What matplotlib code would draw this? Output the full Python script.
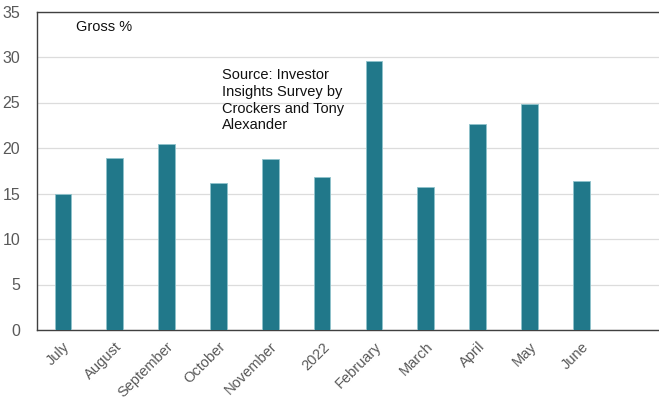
import matplotlib
matplotlib.use("Agg")
import matplotlib.pyplot as plt

categories = ["July", "August", "September", "October", "November", "2022",
              "February", "March", "April", "May", "June", ""]
values = [14.9, 18.9, 20.4, 16.15, 18.8, 16.8, 29.6, 15.7, 22.6, 24.8, 16.4, None]
yticks = [0, 5, 10, 15, 20, 25, 30, 35]

plt.rcParams['font.family'] = ['Liberation Sans', 'DejaVu Sans']

fig = plt.figure(figsize=(6.59, 4.01), dpi=100)
ax = fig.add_axes([37/659, 1 - 330/401, (659-37)/659, (330-11.5)/401])

xs = [i for i, v in enumerate(values) if v is not None]
vs = [v for v in values if v is not None]
ax.bar(xs, vs, width=0.32, color='#21788A', edgecolor='#8fc3cc', linewidth=0.6, zorder=3)

ax.set_xlim(-0.5, len(categories) - 0.5)
ax.set_ylim(0, 35)
ax.set_yticks(yticks)
ax.set_xticks(range(len(categories)))
ax.set_xticklabels(categories, rotation=45, ha='right', rotation_mode='anchor',
                   fontsize=10.5, color='#595959')
ax.tick_params(axis='x', length=0, pad=7)
ax.tick_params(axis='y', length=0, pad=12, labelsize=11.5, labelcolor='#595959')
ax.grid(axis='y', color='#dcdcdc', linewidth=0.9, zorder=0)
for s in ax.spines.values():
    s.set_color('#404040')
    s.set_linewidth(1.0)
ax.spines['right'].set_visible(False)

fig.text(76/659, 1 - 27/401, "Gross %", fontsize=10.5, color='#111111', va='center', ha='left')
fig.text(222/659, 1 - 68/401, "Source: Investor\nInsights Survey by\nCrockers and Tony\nAlexander",
         fontsize=10.5, color='#111111', va='top', ha='left', linespacing=1.25)

fig.savefig("out.png", dpi=100)
